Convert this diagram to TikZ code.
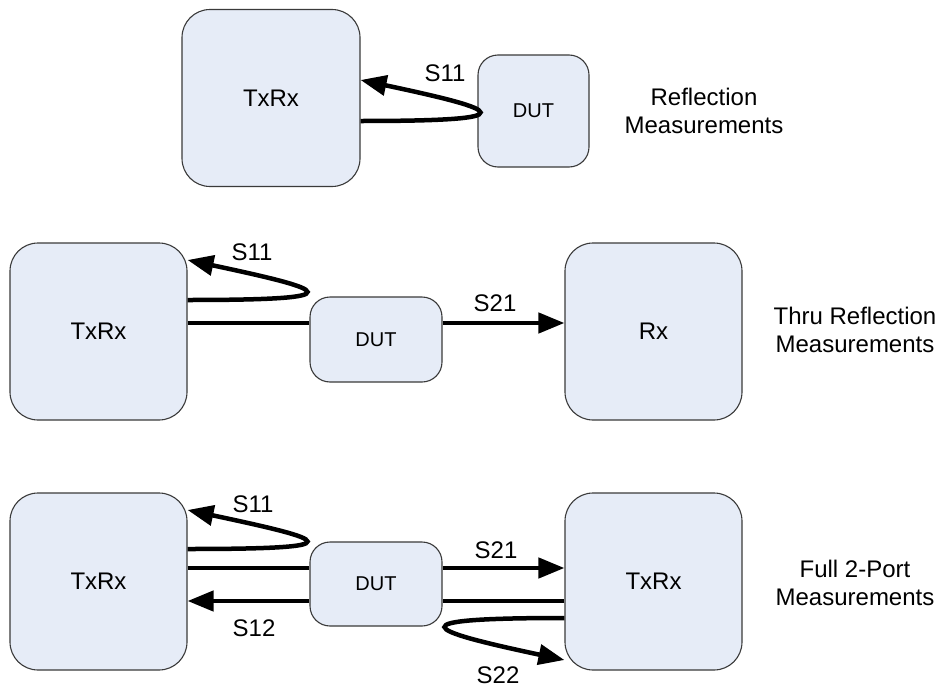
\documentclass[tikz,border=0pt]{standalone}
\usepackage{fontspec}
\setmainfont{Liberation Sans}
\usetikzlibrary{arrows.meta, positioning, calc}
\definecolor{boxFill}{HTML}{E6ECF7}
\definecolor{boxLine}{HTML}{3A3A3A}

\begin{document}
\begin{tikzpicture}[
    x=1pt, y=1pt,
    box/.style={draw=boxLine, line width=1.1pt, fill=boxFill, rounded corners=28pt,
                minimum width=177pt, minimum height=177pt, inner sep=0pt,
                font=\fontsize{24}{29}\selectfont},
    dut/.style={box, rounded corners=20pt, minimum width=132pt, minimum height=85pt,
                font=\fontsize{20}{24}\selectfont},
    wire/.style={line width=4.5pt},
    sig/.style={wire, -{Triangle[length=26pt, width=20pt]}},
    bounce right/.style={out=0, in=-12, out distance=170pt, in distance=145pt},
    bounce left/.style={out=180, in=168, out distance=170pt, in distance=145pt},
    lbl/.style={font=\fontsize{24}{29}\selectfont, inner sep=0pt},
    note/.style={align=center, font=\fontsize{24}{28}\selectfont, inner sep=0pt},
  ]
  \useasboundingbox (0,0) rectangle (945,-688);

  % levels of the wires
  \coordinate (inA) at (0,-121);
  \coordinate (outA) at (0,-80);
  \coordinate (inB) at (0,-300);
  \coordinate (outB) at (0,-260);
  \coordinate (thruB) at (0,-323);
  \coordinate (inC) at (0,-549);
  \coordinate (outC) at (0,-510);
  \coordinate (thruC) at (0,-568);
  \coordinate (backC) at (0,-601);
  \coordinate (inD) at (0,-618);
  \coordinate (outD) at (0,-660);

  % reflection
  \node[box, minimum width=178pt] (txA) at (271,-98) {TxRx};
  \node[dut, minimum width=111pt, minimum height=112pt] (dutA) at (533.5,-111) {DUT};
  \node[note] (noteA) at (704,-111) {Reflection\\Measurements};
  \draw[sig, bounce right] (txA.east |- inA) to (txA.east |- outA);
  \node[lbl] (sA) at (445,-73.5) {S11};

  % thru reflection
  \node[box] (txB) at (98.5,-331.5) {TxRx};
  \node[dut] (dutB) at (376,-339.5) {DUT};
  \node[box] (rxB) at (653.5,-331.5) {Rx};
  \node[note] (noteB) at (855,-330) {Thru Reflection\\Measurements};
  \draw[sig, bounce right] (txB.east |- inB) to (txB.east |- outB);
  \draw[wire] (txB.east |- thruB) -- (dutB.west |- thruB);
  \draw[sig] (dutB.east |- thruB) -- (rxB.west |- thruB);
  \node[lbl] (sB11) at (252,-252) {S11};
  \node[lbl] (sB21) at (495,-303.5) {S21};

  % full 2-port
  \node[box] (txC) at (98.5,-581.5) {TxRx};
  \node[dut, minimum height=84pt] (dutC) at (376,-584) {DUT};
  \node[box] (txD) at (653.5,-581.5) {TxRx};
  \node[note] (noteC) at (855,-583) {Full 2-Port\\Measurements};
  \draw[sig, bounce right] (txC.east |- inC) to (txC.east |- outC);
  \draw[wire] (txC.east |- thruC) -- (dutC.west |- thruC);
  \draw[sig] (dutC.east |- thruC) -- (txD.west |- thruC);
  \draw[wire] (txD.west |- backC) -- (dutC.east |- backC);
  \draw[sig] (dutC.west |- backC) -- (txC.east |- backC);
  \draw[sig, bounce left] (txD.west |- inD) to (txD.west |- outD);
  \node[lbl] (sC11) at (253,-504) {S11};
  \node[lbl] (sC21) at (496,-550) {S21};
  \node[lbl] (sC12) at (254,-628) {S12};
  \node[lbl] (sC22) at (498,-675) {S22};
\end{tikzpicture}
\end{document}
